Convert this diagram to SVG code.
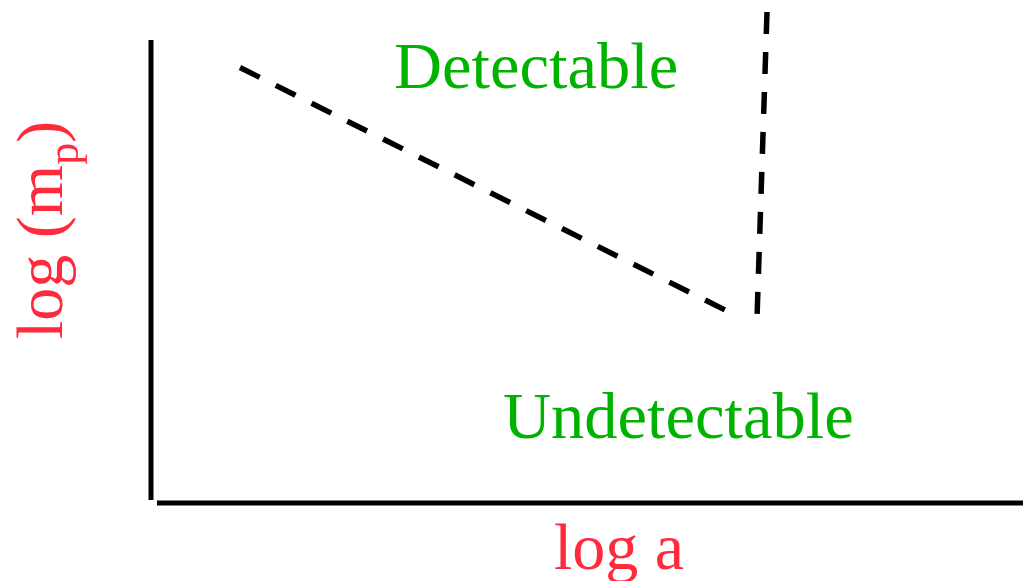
<svg xmlns="http://www.w3.org/2000/svg" width="1023" height="581" viewBox="0 0 1023 581">
<style>
.axis{stroke:#000;stroke-width:5;fill:none}
.dash{stroke:#000;stroke-width:5.5;fill:none;stroke-dasharray:22 18}
.green{fill:#00b300;font-family:"Liberation Serif",serif;font-size:66.5px}
.red{fill:#ff2a3c;font-family:"Liberation Serif",serif;font-size:66px}
</style>
<rect width="1023" height="581" fill="#fff"/>
<g id="axes">
<line class="axis" x1="151" y1="40" x2="151" y2="500"/>
<line class="axis" x1="157" y1="503" x2="1023" y2="503"/>
</g>
<g id="connectors">
<line class="dash" x1="240" y1="67.5" x2="733" y2="314"/>
<line class="dash" x1="767" y1="12" x2="757" y2="318"/>
</g>
<g id="detectable"><text class="green" x="394" y="88">Detectable</text></g>
<g id="undetectable"><text class="green" x="503" y="438">Undetectable</text></g>
<g id="xlabel"><text class="red" x="554" y="569">log a</text></g>
<g id="ylabel"><text class="red" transform="translate(62,339) rotate(-90)">log (m<tspan font-size="44" dy="16">p</tspan><tspan dy="-16">)</tspan></text></g>
</svg>
